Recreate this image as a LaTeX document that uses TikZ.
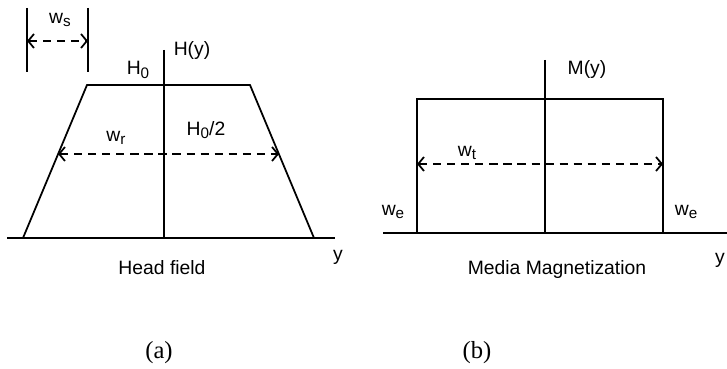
\documentclass[tikz,border=0pt]{standalone}
\usepackage{fontspec}
\setmainfont{Liberation Sans}
\newfontfamily\capfont{Liberation Serif}
\usetikzlibrary{arrows.meta}
\newcommand{\sub}[1]{\raisebox{-0.35ex}{\fontsize{13}{14}\selectfont #1}}

\begin{document}
\begin{tikzpicture}[x=0.03cm, y=-0.03cm, line width=1.5pt,
  lbl/.style={font=\fontsize{16.5}{19}\selectfont, inner sep=0pt},
  panel/.style={font=\capfont\fontsize{21}{24}\selectfont, inner sep=0pt},
  dim/.style={dash pattern=on 7pt off 5pt,
    {Straight Barb[length=5pt,width=12pt]}-{Straight Barb[length=5pt,width=12pt]}}]
  \useasboundingbox (0,0) rectangle (727,369);
  % (a) head field
  \draw (7,238) -- (335,238);
  \draw (164,50) -- (164,238);
  \draw (23,238) -- (87,85) -- (250,85) -- (314,238);
  \draw (27,8) -- (27,72) (88,8) -- (88,72);
  \coordinate (wsL) at (27,41);
  \coordinate (wsR) at (88,41);
  \draw[dim] (wsL) -- (wsR);
  \coordinate (wrL) at (58,154);
  \coordinate (wrR) at (279,154);
  \draw[dim] (wrL) -- (wrR);
  \node[lbl] (ws) at (60,20) {w\sub{s}};
  \node[lbl] (Hy) at (192,51) {H(y)};
  \node[lbl] (H0) at (138,70) {H\sub{0}};
  \node[lbl] (H02) at (206,130) {H\sub{0}/2};
  \node[lbl] (wr) at (116,138) {w\sub{r}};
  \node[lbl] (ya) at (338,257) {y};
  \node[lbl] (head) at (162,268) {Head field};
  \node[panel] (a) at (159,353) {(a)};
  % (b) media magnetization
  \draw (383,233) -- (727,233);
  \draw (545,60) -- (545,233);
  \draw (417,233) -- (417,99) -- (663,99) -- (663,233);
  \coordinate (wtL) at (417,164);
  \coordinate (wtR) at (663,164);
  \draw[dim] (wtL) -- (wtR);
  \node[lbl] (My) at (587,70) {M(y)};
  \node[lbl] (wt) at (467,153) {w\sub{t}};
  \node[lbl] (weL) at (393,212) {w\sub{e}};
  \node[lbl] (weR) at (686,212) {w\sub{e}};
  \node[lbl] (yb) at (720,260) {y};
  \node[lbl] (media) at (557,270) {Media Magnetization};
  \node[panel] (b) at (477,353) {(b)};
\end{tikzpicture}
\end{document}
